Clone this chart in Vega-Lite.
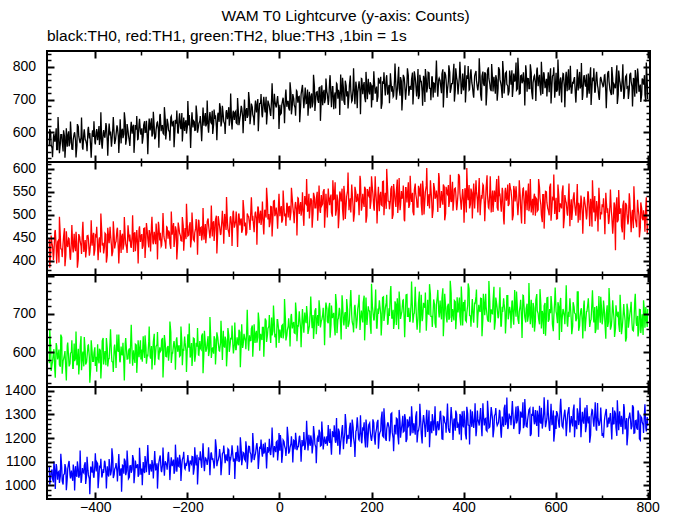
{
"$schema": "https://vega.github.io/schema/vega-lite/v6.json",
"background": "white",
"padding": {"left": 3, "top": 8, "right": 5, "bottom": 2},
"title": {"text": "WAM T0 Lightcurve (y-axis: Counts)", "anchor": "middle", "frame": "group", "offset": 4, "dx": -3},
"config": {
  "view": {"stroke": "black", "strokeWidth": 2},
  "font": "Liberation Sans",
  "axis": {"domain": false, "grid": false, "tickColor": "black", "labelColor": "black", "labelFont": "Liberation Sans", "labelFontSize": 14, "labelFlush": false, "labelOverlap": false, "labelBound": false, "minExtent": 0},
  "title": {"font": "Liberation Sans", "fontSize": 15.5, "fontWeight": "normal", "color": "black"},
  "concat": {"spacing": 0}
},
"spacing": 0,
"bounds": "flush",
"data": {"values": [
{"t":-500,"k":561,"r":447,"g":571,"b":1083},{"t":-497,"k":598,"r":418,"g":612,"b":1031},{"t":-494,"k":552,"r":436,"g":569,"b":1067},{"t":-491,"k":584,"r":402,"g":598,"b":1012},{"t":-488,"k":571,"r":463,"g":553,"b":1055},{"t":-485,"k":612,"r":429,"g":624,"b":1090},{"t":-482,"k":547,"r":441,"g":581,"b":1024},{"t":-479,"k":579,"r":396,"g":607,"b":1059},{"t":-476,"k":566,"r":452,"g":562,"b":1038},{"t":-473,"k":593,"r":425,"g":639,"b":1076},{"t":-470,"k":541,"r":438,"g":578,"b":1003},{"t":-467,"k":588,"r":471,"g":594,"b":1049},{"t":-464,"k":575,"r":413,"g":551,"b":1071},{"t":-461,"k":556,"r":434,"g":617,"b":1028},{"t":-458,"k":603,"r":449,"g":586,"b":1095},{"t":-455,"k":569,"r":408,"g":570,"b":1044},{"t":-452,"k":582,"r":443,"g":601,"b":1062},{"t":-449,"k":548,"r":427,"g":558,"b":1019},{"t":-446,"k":596,"r":459,"g":623,"b":1057},{"t":-443,"k":574,"r":421,"g":584,"b":1081},{"t":-440,"k":559,"r":437,"g":566,"b":1036},{"t":-437,"k":617,"r":404,"g":609,"b":1068},{"t":-434,"k":572,"r":452,"g":579,"b":1047},{"t":-431,"k":585,"r":432,"g":642,"b":1010},{"t":-428,"k":554,"r":466,"g":591,"b":1073},{"t":-425,"k":598,"r":419,"g":563,"b":1052},{"t":-422,"k":577,"r":445,"g":605,"b":1098},{"t":-419,"k":563,"r":428,"g":574,"b":1041},{"t":-416,"k":608,"r":455,"g":618,"b":1064},{"t":-413,"k":581,"r":411,"g":587,"b":1027},{"t":-410,"k":551,"r":442,"g":559,"b":1079},{"t":-407,"k":594,"r":433,"g":602,"b":1054},{"t":-404,"k":586,"r":461,"g":576,"b":1039},{"t":-401,"k":570,"r":424,"g":613,"b":1086},
{"t":-398,"k":602,"r":453,"g":588,"b":1058},{"t":-395,"k":576,"r":427,"g":621,"b":1092},{"t":-392,"k":619,"r":446,"g":571,"b":1041},{"t":-389,"k":583,"r":418,"g":604,"b":1075},{"t":-386,"k":561,"r":462,"g":583,"b":1033},{"t":-383,"k":597,"r":439,"g":637,"b":1069},{"t":-380,"k":585,"r":431,"g":592,"b":1104},{"t":-377,"k":628,"r":457,"g":566,"b":1052},{"t":-374,"k":571,"r":412,"g":609,"b":1080},{"t":-371,"k":604,"r":448,"g":585,"b":1037},{"t":-368,"k":590,"r":474,"g":628,"b":1071},{"t":-365,"k":556,"r":433,"g":597,"b":1063},{"t":-362,"k":613,"r":421,"g":574,"b":1115},{"t":-359,"k":592,"r":452,"g":612,"b":1046},{"t":-356,"k":578,"r":440,"g":589,"b":1078},{"t":-353,"k":621,"r":468,"g":646,"b":1059},{"t":-350,"k":587,"r":425,"g":601,"b":1094},{"t":-347,"k":599,"r":444,"g":577,"b":1040},{"t":-344,"k":566,"r":417,"g":615,"b":1072},{"t":-341,"k":611,"r":459,"g":593,"b":1085},{"t":-338,"k":594,"r":436,"g":568,"b":1049},{"t":-335,"k":632,"r":450,"g":624,"b":1101},{"t":-332,"k":583,"r":428,"g":599,"b":1061},{"t":-329,"k":605,"r":477,"g":583,"b":1077},{"t":-326,"k":571,"r":442,"g":610,"b":1035},{"t":-323,"k":617,"r":431,"g":634,"b":1083},{"t":-320,"k":596,"r":455,"g":590,"b":1068},{"t":-317,"k":623,"r":419,"g":605,"b":1110},{"t":-314,"k":589,"r":462,"g":572,"b":1056},{"t":-311,"k":608,"r":446,"g":619,"b":1073},{"t":-308,"k":578,"r":434,"g":596,"b":1089},{"t":-305,"k":626,"r":469,"g":587,"b":1047},{"t":-302,"k":601,"r":441,"g":631,"b":1079},
{"t":-299,"k":612,"r":458,"g":607,"b":1071},{"t":-296,"k":588,"r":433,"g":642,"b":1098},{"t":-293,"k":634,"r":471,"g":585,"b":1052},{"t":-290,"k":601,"r":447,"g":611,"b":1086},{"t":-287,"k":579,"r":462,"g":594,"b":1123},{"t":-284,"k":622,"r":429,"g":627,"b":1069},{"t":-281,"k":606,"r":455,"g":589,"b":1091},{"t":-278,"k":643,"r":478,"g":616,"b":1058},{"t":-275,"k":597,"r":440,"g":601,"b":1082},{"t":-272,"k":615,"r":463,"g":648,"b":1104},{"t":-269,"k":586,"r":436,"g":599,"b":1066},{"t":-266,"k":629,"r":452,"g":620,"b":1093},{"t":-263,"k":609,"r":485,"g":583,"b":1077},{"t":-260,"k":651,"r":444,"g":613,"b":1119},{"t":-257,"k":603,"r":431,"g":605,"b":1062},{"t":-254,"k":620,"r":467,"g":637,"b":1088},{"t":-251,"k":594,"r":453,"g":597,"b":1074},{"t":-248,"k":638,"r":439,"g":622,"b":1102},{"t":-245,"k":612,"r":474,"g":588,"b":1085},{"t":-242,"k":625,"r":448,"g":616,"b":1131},{"t":-239,"k":601,"r":461,"g":604,"b":1070},{"t":-236,"k":646,"r":426,"g":652,"b":1096},{"t":-233,"k":618,"r":457,"g":598,"b":1081},{"t":-230,"k":633,"r":482,"g":621,"b":1109},{"t":-227,"k":607,"r":450,"g":607,"b":1064},{"t":-224,"k":627,"r":465,"g":633,"b":1092},{"t":-221,"k":599,"r":438,"g":601,"b":1118},{"t":-218,"k":642,"r":470,"g":618,"b":1079},{"t":-215,"k":616,"r":454,"g":592,"b":1100},{"t":-212,"k":659,"r":443,"g":626,"b":1087},{"t":-209,"k":621,"r":476,"g":609,"b":1121},{"t":-206,"k":604,"r":459,"g":641,"b":1073},{"t":-203,"k":637,"r":447,"g":603,"b":1095},{"t":-200,"k":618,"r":472,"g":617,"b":1106},
{"t":-197,"k":621,"r":456,"g":612,"b":1081},{"t":-194,"k":600,"r":484,"g":586,"b":1105},{"t":-191,"k":639,"r":450,"g":624,"b":1089},{"t":-188,"k":615,"r":466,"g":600,"b":1120},{"t":-185,"k":632,"r":443,"g":635,"b":1074},{"t":-182,"k":607,"r":471,"g":597,"b":1098},{"t":-179,"k":650,"r":458,"g":615,"b":1129},{"t":-176,"k":616,"r":489,"g":593,"b":1086},{"t":-173,"k":635,"r":454,"g":629,"b":1110},{"t":-170,"k":602,"r":473,"g":607,"b":1093},{"t":-167,"k":643,"r":462,"g":649,"b":1138},{"t":-164,"k":620,"r":446,"g":601,"b":1085},{"t":-161,"k":659,"r":480,"g":621,"b":1116},{"t":-158,"k":627,"r":465,"g":609,"b":1101},{"t":-155,"k":614,"r":492,"g":642,"b":1123},{"t":-152,"k":649,"r":459,"g":605,"b":1090},{"t":-149,"k":630,"r":475,"g":627,"b":1134},{"t":-146,"k":666,"r":453,"g":610,"b":1107},{"t":-143,"k":624,"r":486,"g":596,"b":1094},{"t":-140,"k":641,"r":469,"g":633,"b":1119},{"t":-137,"k":617,"r":498,"g":616,"b":1156},{"t":-134,"k":655,"r":464,"g":638,"b":1103},{"t":-131,"k":632,"r":481,"g":604,"b":1127},{"t":-128,"k":673,"r":456,"g":625,"b":1111},{"t":-125,"k":636,"r":490,"g":619,"b":1095},{"t":-122,"k":651,"r":473,"g":656,"b":1140},{"t":-119,"k":625,"r":502,"g":612,"b":1118},{"t":-116,"k":662,"r":467,"g":630,"b":1131},{"t":-113,"k":640,"r":484,"g":607,"b":1105},{"t":-110,"k":677,"r":461,"g":643,"b":1149},{"t":-107,"k":647,"r":494,"g":621,"b":1114},{"t":-104,"k":629,"r":477,"g":635,"b":1137},{"t":-101,"k":660,"r":505,"g":614,"b":1123},
{"t":-98,"k":638,"r":472,"g":621,"b":1113},{"t":-95,"k":664,"r":488,"g":607,"b":1137},{"t":-92,"k":626,"r":464,"g":639,"b":1102},{"t":-89,"k":657,"r":500,"g":618,"b":1126},{"t":-86,"k":642,"r":477,"g":652,"b":1109},{"t":-83,"k":681,"r":492,"g":625,"b":1151},{"t":-80,"k":648,"r":469,"g":611,"b":1118},{"t":-77,"k":669,"r":506,"g":648,"b":1135},{"t":-74,"k":635,"r":483,"g":629,"b":1104},{"t":-71,"k":674,"r":461,"g":661,"b":1148},{"t":-68,"k":653,"r":497,"g":622,"b":1123},{"t":-65,"k":692,"r":480,"g":644,"b":1164},{"t":-62,"k":656,"r":513,"g":631,"b":1131},{"t":-59,"k":677,"r":487,"g":670,"b":1116},{"t":-56,"k":644,"r":474,"g":637,"b":1152},{"t":-53,"k":683,"r":503,"g":624,"b":1127},{"t":-50,"k":661,"r":491,"g":656,"b":1169},{"t":-47,"k":702,"r":518,"g":639,"b":1138},{"t":-44,"k":666,"r":482,"g":677,"b":1124},{"t":-41,"k":689,"r":509,"g":648,"b":1157},{"t":-38,"k":654,"r":496,"g":632,"b":1134},{"t":-35,"k":696,"r":473,"g":665,"b":1176},{"t":-32,"k":671,"r":511,"g":651,"b":1143},{"t":-29,"k":709,"r":494,"g":682,"b":1121},{"t":-26,"k":668,"r":526,"g":645,"b":1162},{"t":-23,"k":686,"r":502,"g":668,"b":1148},{"t":-20,"k":658,"r":485,"g":639,"b":1134},{"t":-17,"k":705,"r":517,"g":691,"b":1179},{"t":-14,"k":677,"r":499,"g":656,"b":1145},{"t":-11,"k":718,"r":531,"g":673,"b":1166},{"t":-8,"k":681,"r":506,"g":648,"b":1140},{"t":-5,"k":700,"r":492,"g":685,"b":1187},{"t":-2,"k":674,"r":523,"g":661,"b":1153},
{"t":1,"k":684,"r":497,"g":659,"b":1146},{"t":4,"k":658,"r":519,"g":637,"b":1172},{"t":7,"k":699,"r":490,"g":672,"b":1139},{"t":10,"k":671,"r":514,"g":653,"b":1184},{"t":13,"k":713,"r":503,"g":686,"b":1153},{"t":16,"k":678,"r":526,"g":644,"b":1167},{"t":19,"k":695,"r":494,"g":668,"b":1200},{"t":22,"k":667,"r":518,"g":657,"b":1144},{"t":25,"k":720,"r":506,"g":694,"b":1176},{"t":28,"k":684,"r":533,"g":662,"b":1159},{"t":31,"k":703,"r":499,"g":679,"b":1190},{"t":34,"k":675,"r":522,"g":649,"b":1152},{"t":37,"k":728,"r":511,"g":698,"b":1179},{"t":40,"k":691,"r":537,"g":671,"b":1164},{"t":43,"k":710,"r":502,"g":707,"b":1205},{"t":46,"k":680,"r":528,"g":660,"b":1156},{"t":49,"k":736,"r":515,"g":685,"b":1192},{"t":52,"k":696,"r":492,"g":668,"b":1171},{"t":55,"k":715,"r":541,"g":704,"b":1149},{"t":58,"k":688,"r":523,"g":676,"b":1200},{"t":61,"k":731,"r":507,"g":691,"b":1182},{"t":64,"k":701,"r":546,"g":662,"b":1214},{"t":67,"k":673,"r":520,"g":710,"b":1167},{"t":70,"k":719,"r":531,"g":681,"b":1189},{"t":73,"k":693,"r":504,"g":697,"b":1175},{"t":76,"k":741,"r":538,"g":673,"b":1211},{"t":79,"k":705,"r":515,"g":715,"b":1161},{"t":82,"k":724,"r":550,"g":687,"b":1198},{"t":85,"k":690,"r":526,"g":669,"b":1184},{"t":88,"k":738,"r":509,"g":708,"b":1222},{"t":91,"k":709,"r":543,"g":682,"b":1170},{"t":94,"k":683,"r":524,"g":699,"b":1203},{"t":97,"k":730,"r":556,"g":674,"b":1190},{"t":100,"k":704,"r":517,"g":712,"b":1178},
{"t":103,"k":724,"r":513,"g":714,"b":1207},{"t":106,"k":684,"r":557,"g":676,"b":1255},{"t":109,"k":757,"r":521,"g":729,"b":1180},{"t":112,"k":707,"r":544,"g":672,"b":1160},{"t":115,"k":740,"r":496,"g":689,"b":1229},{"t":118,"k":671,"r":534,"g":703,"b":1204},{"t":121,"k":722,"r":571,"g":644,"b":1191},{"t":124,"k":750,"r":512,"g":725,"b":1285},{"t":127,"k":703,"r":530,"g":686,"b":1167},{"t":130,"k":716,"r":505,"g":716,"b":1226},{"t":133,"k":777,"r":543,"g":668,"b":1180},{"t":136,"k":697,"r":557,"g":749,"b":1242},{"t":139,"k":735,"r":488,"g":679,"b":1153},{"t":142,"k":684,"r":539,"g":701,"b":1223},{"t":145,"k":742,"r":523,"g":661,"b":1253},{"t":148,"k":726,"r":553,"g":711,"b":1206},{"t":151,"k":713,"r":510,"g":675,"b":1196},{"t":154,"k":774,"r":536,"g":739,"b":1265},{"t":157,"k":694,"r":566,"g":698,"b":1209},{"t":160,"k":734,"r":518,"g":669,"b":1246},{"t":163,"k":705,"r":504,"g":718,"b":1171},{"t":166,"k":755,"r":549,"g":689,"b":1230},{"t":169,"k":674,"r":533,"g":687,"b":1288},{"t":172,"k":745,"r":524,"g":730,"b":1196},{"t":175,"k":725,"r":585,"g":658,"b":1226},{"t":178,"k":765,"r":509,"g":709,"b":1186},{"t":181,"k":717,"r":546,"g":678,"b":1245},{"t":184,"k":754,"r":517,"g":748,"b":1267},{"t":187,"k":692,"r":556,"g":698,"b":1160},{"t":190,"k":733,"r":498,"g":671,"b":1240},{"t":193,"k":764,"r":543,"g":720,"b":1216},{"t":196,"k":716,"r":561,"g":707,"b":1264},{"t":199,"k":746,"r":531,"g":648,"b":1197},
{"t":202,"k":744,"r":556,"g":719,"b":1220},{"t":205,"k":787,"r":515,"g":683,"b":1264},{"t":208,"k":718,"r":584,"g":729,"b":1172},{"t":211,"k":740,"r":524,"g":663,"b":1240},{"t":214,"k":710,"r":543,"g":714,"b":1277},{"t":217,"k":754,"r":508,"g":736,"b":1213},{"t":220,"k":770,"r":550,"g":701,"b":1231},{"t":223,"k":689,"r":520,"g":692,"b":1312},{"t":226,"k":749,"r":573,"g":745,"b":1205},{"t":229,"k":731,"r":539,"g":702,"b":1256},{"t":232,"k":766,"r":513,"g":729,"b":1188},{"t":235,"k":715,"r":554,"g":672,"b":1264},{"t":238,"k":745,"r":529,"g":715,"b":1244},{"t":241,"k":781,"r":530,"g":759,"b":1227},{"t":244,"k":724,"r":563,"g":689,"b":1306},{"t":247,"k":709,"r":501,"g":711,"b":1199},{"t":250,"k":760,"r":546,"g":681,"b":1254},{"t":253,"k":741,"r":517,"g":724,"b":1215},{"t":256,"k":730,"r":577,"g":741,"b":1280},{"t":259,"k":801,"r":534,"g":660,"b":1173},{"t":262,"k":712,"r":510,"g":720,"b":1268},{"t":265,"k":756,"r":552,"g":701,"b":1240},{"t":268,"k":721,"r":540,"g":736,"b":1294},{"t":271,"k":767,"r":490,"g":686,"b":1230},{"t":274,"k":700,"r":559,"g":715,"b":1278},{"t":277,"k":752,"r":527,"g":751,"b":1196},{"t":280,"k":774,"r":571,"g":694,"b":1250},{"t":283,"k":739,"r":523,"g":679,"b":1291},{"t":286,"k":730,"r":537,"g":730,"b":1227},{"t":289,"k":783,"r":548,"g":711,"b":1267},{"t":292,"k":740,"r":499,"g":700,"b":1262},{"t":295,"k":767,"r":568,"g":771,"b":1214},{"t":298,"k":710,"r":533,"g":682,"b":1313},
{"t":301,"k":794,"r":517,"g":689,"b":1230},{"t":304,"k":713,"r":554,"g":759,"b":1255},{"t":307,"k":754,"r":568,"g":708,"b":1270},{"t":310,"k":724,"r":499,"g":681,"b":1177},{"t":313,"k":773,"r":549,"g":729,"b":1297},{"t":316,"k":693,"r":533,"g":716,"b":1239},{"t":319,"k":763,"r":563,"g":656,"b":1287},{"t":322,"k":742,"r":519,"g":737,"b":1226},{"t":325,"k":782,"r":545,"g":699,"b":1317},{"t":328,"k":734,"r":575,"g":751,"b":1248},{"t":331,"k":770,"r":526,"g":694,"b":1220},{"t":334,"k":707,"r":512,"g":710,"b":1267},{"t":337,"k":749,"r":556,"g":724,"b":1278},{"t":340,"k":779,"r":540,"g":664,"b":1211},{"t":343,"k":730,"r":531,"g":745,"b":1268},{"t":346,"k":761,"r":591,"g":705,"b":1233},{"t":349,"k":758,"r":515,"g":735,"b":1309},{"t":352,"k":720,"r":552,"g":686,"b":1252},{"t":355,"k":793,"r":522,"g":767,"b":1195},{"t":358,"k":743,"r":561,"g":697,"b":1289},{"t":361,"k":775,"r":503,"g":718,"b":1260},{"t":364,"k":705,"r":547,"g":678,"b":1300},{"t":367,"k":757,"r":565,"g":727,"b":1243},{"t":370,"k":784,"r":535,"g":691,"b":1222},{"t":373,"k":736,"r":528,"g":754,"b":1331},{"t":376,"k":749,"r":572,"g":713,"b":1252},{"t":379,"k":810,"r":535,"g":683,"b":1278},{"t":382,"k":729,"r":558,"g":732,"b":1231},{"t":385,"k":767,"r":510,"g":702,"b":1300},{"t":388,"k":716,"r":547,"g":704,"b":1261},{"t":391,"k":773,"r":584,"g":743,"b":1215},{"t":394,"k":757,"r":524,"g":670,"b":1291},{"t":397,"k":744,"r":542,"g":721,"b":1313},{"t":400,"k":728,"r":528,"g":731,"b":1245},
{"t":403,"k":805,"r":558,"g":737,"b":1274},{"t":406,"k":745,"r":505,"g":680,"b":1194},{"t":409,"k":764,"r":540,"g":723,"b":1303},{"t":412,"k":729,"r":565,"g":766,"b":1253},{"t":415,"k":780,"r":523,"g":695,"b":1321},{"t":418,"k":751,"r":548,"g":717,"b":1247},{"t":421,"k":715,"r":547,"g":687,"b":1268},{"t":424,"k":772,"r":514,"g":730,"b":1287},{"t":427,"k":788,"r":575,"g":746,"b":1208},{"t":430,"k":737,"r":532,"g":664,"b":1316},{"t":433,"k":756,"r":559,"g":724,"b":1263},{"t":436,"k":767,"r":499,"g":705,"b":1303},{"t":439,"k":697,"r":543,"g":740,"b":1238},{"t":442,"k":786,"r":566,"g":689,"b":1347},{"t":445,"k":742,"r":524,"g":718,"b":1253},{"t":448,"k":778,"r":536,"g":753,"b":1283},{"t":451,"k":732,"r":586,"g":696,"b":1229},{"t":454,"k":799,"r":516,"g":680,"b":1294},{"t":457,"k":748,"r":549,"g":731,"b":1247},{"t":460,"k":726,"r":505,"g":712,"b":1331},{"t":463,"k":761,"r":553,"g":701,"b":1277},{"t":466,"k":770,"r":539,"g":771,"b":1238},{"t":469,"k":718,"r":528,"g":682,"b":1303},{"t":472,"k":761,"r":578,"g":725,"b":1264},{"t":475,"k":734,"r":509,"g":689,"b":1262},{"t":478,"k":791,"r":543,"g":735,"b":1319},{"t":481,"k":749,"r":518,"g":668,"b":1221},{"t":484,"k":705,"r":559,"g":719,"b":1291},{"t":487,"k":775,"r":490,"g":741,"b":1248},{"t":490,"k":755,"r":550,"g":706,"b":1341},{"t":493,"k":785,"r":531,"g":697,"b":1274},{"t":496,"k":742,"r":566,"g":748,"b":1238},{"t":499,"k":726,"r":524,"g":705,"b":1304},
{"t":502,"k":763,"r":556,"g":702,"b":1294},{"t":505,"k":790,"r":530,"g":732,"b":1323},{"t":508,"k":742,"r":500,"g":683,"b":1276},{"t":511,"k":755,"r":548,"g":763,"b":1265},{"t":514,"k":814,"r":562,"g":693,"b":1333},{"t":517,"k":733,"r":517,"g":714,"b":1276},{"t":520,"k":771,"r":533,"g":674,"b":1312},{"t":523,"k":719,"r":542,"g":722,"b":1236},{"t":526,"k":775,"r":481,"g":686,"b":1294},{"t":529,"k":759,"r":557,"g":749,"b":1351},{"t":532,"k":745,"r":520,"g":708,"b":1258},{"t":535,"k":805,"r":550,"g":678,"b":1287},{"t":538,"k":724,"r":510,"g":727,"b":1247},{"t":541,"k":764,"r":568,"g":696,"b":1305},{"t":544,"k":734,"r":524,"g":697,"b":1326},{"t":547,"k":782,"r":505,"g":737,"b":1218},{"t":550,"k":701,"r":535,"g":664,"b":1297},{"t":553,"k":771,"r":541,"g":715,"b":1272},{"t":556,"k":750,"r":498,"g":682,"b":1319},{"t":559,"k":790,"r":534,"g":752,"b":1251},{"t":562,"k":741,"r":511,"g":701,"b":1290},{"t":565,"k":776,"r":559,"g":673,"b":1337},{"t":568,"k":713,"r":521,"g":722,"b":1261},{"t":571,"k":754,"r":484,"g":708,"b":1240},{"t":574,"k":784,"r":544,"g":648,"b":1308},{"t":577,"k":735,"r":525,"g":729,"b":1283},{"t":580,"k":764,"r":550,"g":691,"b":1269},{"t":583,"k":762,"r":513,"g":743,"b":1362},{"t":586,"k":723,"r":499,"g":686,"b":1243},{"t":589,"k":796,"r":568,"g":702,"b":1301},{"t":592,"k":745,"r":517,"g":715,"b":1254},{"t":595,"k":777,"r":532,"g":655,"b":1317},{"t":598,"k":706,"r":502,"g":735,"b":1227},
{"t":601,"k":782,"r":537,"g":706,"b":1238},{"t":604,"k":731,"r":492,"g":676,"b":1303},{"t":607,"k":750,"r":540,"g":718,"b":1255},{"t":610,"k":761,"r":525,"g":734,"b":1338},{"t":613,"k":691,"r":514,"g":653,"b":1284},{"t":616,"k":780,"r":564,"g":713,"b":1244},{"t":619,"k":736,"r":495,"g":694,"b":1308},{"t":622,"k":772,"r":529,"g":729,"b":1269},{"t":625,"k":726,"r":503,"g":677,"b":1268},{"t":628,"k":793,"r":544,"g":706,"b":1322},{"t":631,"k":742,"r":475,"g":741,"b":1224},{"t":634,"k":720,"r":534,"g":684,"b":1293},{"t":637,"k":755,"r":515,"g":668,"b":1249},{"t":640,"k":764,"r":549,"g":719,"b":1342},{"t":643,"k":712,"r":507,"g":700,"b":1274},{"t":646,"k":755,"r":537,"g":689,"b":1237},{"t":649,"k":728,"r":483,"g":758,"b":1302},{"t":652,"k":785,"r":517,"g":669,"b":1284},{"t":655,"k":742,"r":542,"g":712,"b":1203},{"t":658,"k":699,"r":500,"g":677,"b":1311},{"t":661,"k":769,"r":525,"g":722,"b":1261},{"t":664,"k":747,"r":523,"g":655,"b":1329},{"t":667,"k":777,"r":490,"g":706,"b":1253},{"t":670,"k":734,"r":551,"g":727,"b":1274},{"t":673,"k":718,"r":508,"g":692,"b":1292},{"t":676,"k":799,"r":535,"g":683,"b":1213},{"t":679,"k":738,"r":474,"g":734,"b":1320},{"t":682,"k":757,"r":518,"g":692,"b":1266},{"t":685,"k":721,"r":541,"g":718,"b":1306},{"t":688,"k":772,"r":499,"g":661,"b":1240},{"t":691,"k":743,"r":510,"g":704,"b":1348},{"t":694,"k":707,"r":559,"g":747,"b":1254},{"t":697,"k":764,"r":490,"g":677,"b":1283},{"t":700,"k":756,"r":501,"g":709,"b":1246},
{"t":703,"k":740,"r":517,"g":695,"b":1221},{"t":706,"k":775,"r":489,"g":706,"b":1275},{"t":709,"k":723,"r":548,"g":635,"b":1314},{"t":712,"k":752,"r":504,"g":723,"b":1248},{"t":715,"k":788,"r":480,"g":680,"b":1287},{"t":718,"k":731,"r":522,"g":715,"b":1290},{"t":721,"k":714,"r":509,"g":669,"b":1232},{"t":724,"k":765,"r":459,"g":736,"b":1330},{"t":727,"k":747,"r":527,"g":685,"b":1261},{"t":730,"k":735,"r":423,"g":662,"b":1303},{"t":733,"k":805,"r":538,"g":697,"b":1209},{"t":736,"k":716,"r":489,"g":706,"b":1277},{"t":739,"k":760,"r":502,"g":653,"b":1313},{"t":742,"k":724,"r":513,"g":696,"b":1247},{"t":745,"k":770,"r":462,"g":669,"b":1265},{"t":748,"k":702,"r":531,"g":726,"b":1344},{"t":751,"k":753,"r":496,"g":682,"b":1236},{"t":754,"k":775,"r":521,"g":638,"b":1285},{"t":757,"k":739,"r":479,"g":709,"b":1217},{"t":760,"k":731,"r":547,"g":686,"b":1292},{"t":763,"k":782,"r":487,"g":716,"b":1270},{"t":766,"k":739,"r":505,"g":673,"b":1251},{"t":769,"k":766,"r":471,"g":656,"b":1330},{"t":772,"k":709,"r":512,"g":737,"b":1222},{"t":775,"k":752,"r":481,"g":677,"b":1275},{"t":778,"k":795,"r":533,"g":695,"b":1235},{"t":781,"k":724,"r":498,"g":660,"b":1299},{"t":784,"k":746,"r":472,"g":711,"b":1191},{"t":787,"k":716,"r":513,"g":681,"b":1285},{"t":790,"k":759,"r":488,"g":645,"b":1255},{"t":793,"k":775,"r":490,"g":702,"b":1309},{"t":796,"k":694,"r":521,"g":718,"b":1242},{"t":799,"k":753,"r":458,"g":666,"b":1289},
{"t":-499,"k":610,"r":385,"g":659,"b":1003},{"t":-496,"k":561,"r":455,"g":551,"b":1056},{"t":-493,"k":524,"r":432,"g":576,"b":1028},{"t":-490,"k":596,"r":417,"g":608,"b":1102},{"t":-487,"k":578,"r":467,"g":533,"b":984},{"t":-484,"k":547,"r":394,"g":617,"b":1079},{"t":-481,"k":647,"r":443,"g":589,"b":1054},{"t":-478,"k":536,"r":496,"g":567,"b":1010},{"t":-475,"k":593,"r":426,"g":646,"b":1133},{"t":-472,"k":571,"r":408,"g":544,"b":1019},{"t":-469,"k":606,"r":452,"g":581,"b":1044},{"t":-466,"k":522,"r":388,"g":603,"b":1090},{"t":-463,"k":612,"r":464,"g":526,"b":979},{"t":-460,"k":588,"r":430,"g":625,"b":1069},{"t":-457,"k":557,"r":448,"g":563,"b":1103},{"t":-454,"k":633,"r":402,"g":597,"b":1029},{"t":-451,"k":549,"r":478,"g":631,"b":1043},{"t":-448,"k":578,"r":418,"g":558,"b":1088},{"t":-445,"k":600,"r":433,"g":577,"b":978},{"t":-442,"k":523,"r":463,"g":654,"b":1044},{"t":-439,"k":625,"r":385,"g":570,"b":1101},{"t":-436,"k":588,"r":458,"g":542,"b":1032},{"t":-433,"k":567,"r":442,"g":615,"b":1147},{"t":-430,"k":645,"r":415,"g":553,"b":1021},{"t":-427,"k":547,"r":485,"g":602,"b":1058},{"t":-424,"k":609,"r":428,"g":640,"b":1083},{"t":-421,"k":576,"r":407,"g":568,"b":1006},{"t":-418,"k":542,"r":454,"g":588,"b":1121},{"t":-415,"k":617,"r":447,"g":619,"b":1044},{"t":-412,"k":598,"r":418,"g":520,"b":962},{"t":-409,"k":522,"r":488,"g":631,"b":1073},{"t":-406,"k":606,"r":447,"g":576,"b":1102},{"t":-403,"k":634,"r":411,"g":598,"b":1032},{"t":-400,"k":563,"r":456,"g":564,"b":1136},
{"t":-397,"k":610,"r":474,"g":549,"b":1099},{"t":-394,"k":592,"r":401,"g":586,"b":988},{"t":-391,"k":561,"r":451,"g":609,"b":1079},{"t":-388,"k":661,"r":503,"g":531,"b":1112},{"t":-385,"k":550,"r":433,"g":630,"b":1039},{"t":-382,"k":607,"r":416,"g":568,"b":1052},{"t":-379,"k":585,"r":460,"g":603,"b":1098},{"t":-376,"k":620,"r":396,"g":637,"b":987},{"t":-373,"k":528,"r":472,"g":563,"b":1054},{"t":-370,"k":627,"r":438,"g":582,"b":1111},{"t":-367,"k":602,"r":457,"g":660,"b":1042},{"t":-364,"k":572,"r":410,"g":576,"b":1157},{"t":-361,"k":647,"r":486,"g":548,"b":1031},{"t":-358,"k":564,"r":427,"g":620,"b":1068},{"t":-355,"k":592,"r":442,"g":559,"b":1094},{"t":-352,"k":615,"r":472,"g":608,"b":1016},{"t":-349,"k":537,"r":394,"g":646,"b":1132},{"t":-346,"k":640,"r":467,"g":574,"b":1054},{"t":-343,"k":604,"r":452,"g":594,"b":973},{"t":-340,"k":582,"r":424,"g":625,"b":1083},{"t":-337,"k":661,"r":495,"g":526,"b":1113},{"t":-334,"k":562,"r":438,"g":637,"b":1043},{"t":-331,"k":625,"r":417,"g":582,"b":1147},{"t":-328,"k":591,"r":465,"g":604,"b":1028},{"t":-325,"k":558,"r":457,"g":570,"b":1082},{"t":-322,"k":632,"r":428,"g":672,"b":1053},{"t":-319,"k":614,"r":499,"g":565,"b":1128},{"t":-316,"k":537,"r":458,"g":590,"b":1009},{"t":-313,"k":622,"r":421,"g":621,"b":1105},{"t":-310,"k":650,"r":467,"g":546,"b":1080},{"t":-307,"k":579,"r":394,"g":631,"b":1036},{"t":-304,"k":641,"r":475,"g":603,"b":1159},{"t":-301,"k":593,"r":452,"g":581,"b":1045},
{"t":-298,"k":565,"r":426,"g":575,"b":1000},{"t":-295,"k":622,"r":470,"g":609,"b":1067},{"t":-292,"k":600,"r":406,"g":644,"b":1124},{"t":-289,"k":635,"r":482,"g":570,"b":1055},{"t":-286,"k":533,"r":448,"g":589,"b":1170},{"t":-283,"k":642,"r":467,"g":667,"b":1044},{"t":-280,"k":618,"r":420,"g":583,"b":1081},{"t":-277,"k":587,"r":496,"g":555,"b":1107},{"t":-274,"k":663,"r":436,"g":627,"b":1029},{"t":-271,"k":579,"r":452,"g":566,"b":1145},{"t":-268,"k":608,"r":481,"g":615,"b":1067},{"t":-265,"k":631,"r":403,"g":653,"b":986},{"t":-262,"k":553,"r":477,"g":582,"b":1096},{"t":-259,"k":656,"r":461,"g":601,"b":1126},{"t":-256,"k":619,"r":433,"g":632,"b":1056},{"t":-253,"k":598,"r":504,"g":534,"b":1160},{"t":-250,"k":677,"r":447,"g":645,"b":1041},{"t":-247,"k":578,"r":426,"g":589,"b":1095},{"t":-244,"k":641,"r":473,"g":611,"b":1066},{"t":-241,"k":607,"r":466,"g":578,"b":1141},{"t":-238,"k":574,"r":437,"g":680,"b":1022},{"t":-235,"k":649,"r":507,"g":572,"b":1118},{"t":-232,"k":630,"r":467,"g":598,"b":1093},{"t":-229,"k":554,"r":430,"g":629,"b":1049},{"t":-226,"k":638,"r":475,"g":554,"b":1172},{"t":-223,"k":667,"r":403,"g":639,"b":1058},{"t":-220,"k":596,"r":483,"g":611,"b":1083},{"t":-217,"k":658,"r":460,"g":589,"b":1129},{"t":-214,"k":610,"r":444,"g":667,"b":1018},{"t":-211,"k":572,"r":495,"g":566,"b":1109},{"t":-208,"k":645,"r":422,"g":603,"b":1142},{"t":-205,"k":627,"r":471,"g":625,"b":1069},{"t":-202,"k":596,"r":524,"g":548,"b":1082},{"t":-199,"k":696,"r":454,"g":647,"b":1128},
{"t":-196,"k":653,"r":475,"g":675,"b":1058},{"t":-193,"k":552,"r":429,"g":592,"b":1096},{"t":-190,"k":661,"r":505,"g":564,"b":1122},{"t":-187,"k":636,"r":446,"g":637,"b":1045},{"t":-184,"k":606,"r":461,"g":575,"b":1161},{"t":-181,"k":682,"r":491,"g":625,"b":1084},{"t":-178,"k":599,"r":413,"g":663,"b":1003},{"t":-175,"k":627,"r":487,"g":592,"b":1114},{"t":-172,"k":650,"r":471,"g":611,"b":1144},{"t":-169,"k":573,"r":444,"g":643,"b":1074},{"t":-166,"k":676,"r":515,"g":545,"b":1178},{"t":-163,"k":640,"r":458,"g":656,"b":1060},{"t":-160,"k":618,"r":438,"g":601,"b":1114},{"t":-157,"k":697,"r":485,"g":623,"b":1086},{"t":-154,"k":599,"r":478,"g":590,"b":1161},{"t":-151,"k":662,"r":449,"g":692,"b":1043},{"t":-148,"k":628,"r":520,"g":585,"b":1139},{"t":-145,"k":595,"r":480,"g":611,"b":1115},{"t":-142,"k":670,"r":443,"g":642,"b":1071},{"t":-139,"k":652,"r":489,"g":568,"b":1195},{"t":-136,"k":576,"r":416,"g":652,"b":1081},{"t":-133,"k":660,"r":497,"g":625,"b":1107},{"t":-130,"k":689,"r":474,"g":603,"b":1153},{"t":-127,"k":618,"r":459,"g":682,"b":1043},{"t":-124,"k":681,"r":509,"g":580,"b":1134},{"t":-121,"k":633,"r":437,"g":618,"b":1168},{"t":-118,"k":595,"r":487,"g":641,"b":1094},{"t":-115,"k":668,"r":539,"g":563,"b":1108},{"t":-112,"k":650,"r":470,"g":663,"b":1154},{"t":-109,"k":620,"r":452,"g":601,"b":1044},{"t":-106,"k":719,"r":497,"g":636,"b":1111},{"t":-103,"k":609,"r":432,"g":670,"b":1169},{"t":-100,"k":666,"r":509,"g":597,"b":1100},
{"t":-97,"k":659,"r":477,"g":678,"b":1027},{"t":-94,"k":629,"r":507,"g":607,"b":1138},{"t":-91,"k":705,"r":430,"g":627,"b":1168},{"t":-88,"k":622,"r":503,"g":659,"b":1099},{"t":-85,"k":651,"r":488,"g":561,"b":1203},{"t":-82,"k":674,"r":461,"g":673,"b":1085},{"t":-79,"k":597,"r":532,"g":618,"b":1139},{"t":-76,"k":700,"r":475,"g":641,"b":1111},{"t":-73,"k":664,"r":455,"g":608,"b":1186},{"t":-70,"k":644,"r":503,"g":711,"b":1069},{"t":-67,"k":723,"r":496,"g":604,"b":1165},{"t":-64,"k":625,"r":467,"g":630,"b":1141},{"t":-61,"k":688,"r":538,"g":662,"b":1097},{"t":-58,"k":655,"r":498,"g":588,"b":1221},{"t":-55,"k":622,"r":462,"g":673,"b":1107},{"t":-52,"k":697,"r":507,"g":646,"b":1133},{"t":-49,"k":679,"r":435,"g":625,"b":1179},{"t":-46,"k":603,"r":516,"g":704,"b":1069},{"t":-43,"k":688,"r":494,"g":604,"b":1160},{"t":-40,"k":717,"r":478,"g":642,"b":1194},{"t":-37,"k":646,"r":529,"g":665,"b":1121},{"t":-34,"k":709,"r":457,"g":588,"b":1135},{"t":-31,"k":661,"r":507,"g":688,"b":1181},{"t":-28,"k":624,"r":559,"g":627,"b":1071},{"t":-25,"k":697,"r":490,"g":662,"b":1138},{"t":-22,"k":680,"r":473,"g":697,"b":1197},{"t":-19,"k":650,"r":518,"g":624,"b":1128},{"t":-16,"k":750,"r":453,"g":644,"b":1244},{"t":-13,"k":640,"r":530,"g":722,"b":1118},{"t":-10,"k":697,"r":497,"g":639,"b":1156},{"t":-7,"k":676,"r":516,"g":612,"b":1182},{"t":-4,"k":711,"r":470,"g":685,"b":1105},{"t":-1,"k":610,"r":546,"g":624,"b":1221},
{"t":2,"k":654,"r":510,"g":646,"b":1213},{"t":5,"k":683,"r":483,"g":669,"b":1095},{"t":8,"k":706,"r":553,"g":636,"b":1191},{"t":11,"k":628,"r":497,"g":739,"b":1168},{"t":14,"k":731,"r":476,"g":631,"b":1124},{"t":17,"k":695,"r":524,"g":657,"b":1248},{"t":20,"k":674,"r":517,"g":689,"b":1134},{"t":23,"k":753,"r":488,"g":615,"b":1160},{"t":26,"k":655,"r":559,"g":700,"b":1207},{"t":29,"k":717,"r":518,"g":673,"b":1097},{"t":32,"k":684,"r":482,"g":651,"b":1188},{"t":35,"k":651,"r":528,"g":730,"b":1222},{"t":38,"k":726,"r":455,"g":629,"b":1149},{"t":41,"k":708,"r":536,"g":667,"b":1164},{"t":44,"k":631,"r":513,"g":690,"b":1210},{"t":47,"k":716,"r":498,"g":613,"b":1100},{"t":50,"k":745,"r":549,"g":713,"b":1167},{"t":53,"k":674,"r":476,"g":651,"b":1225},{"t":56,"k":737,"r":526,"g":686,"b":1157},{"t":59,"k":689,"r":578,"g":721,"b":1273},{"t":62,"k":651,"r":509,"g":648,"b":1147},{"t":65,"k":724,"r":492,"g":668,"b":1185},{"t":68,"k":706,"r":536,"g":746,"b":1211},{"t":71,"k":676,"r":472,"g":663,"b":1135},{"t":74,"k":776,"r":548,"g":635,"b":1251},{"t":77,"k":665,"r":515,"g":708,"b":1174},{"t":80,"k":722,"r":534,"g":647,"b":1093},{"t":83,"k":701,"r":487,"g":697,"b":1204},{"t":86,"k":736,"r":564,"g":736,"b":1235},{"t":89,"k":635,"r":504,"g":665,"b":1166},{"t":92,"k":744,"r":520,"g":685,"b":1270},{"t":95,"k":719,"r":550,"g":716,"b":1152},{"t":98,"k":689,"r":472,"g":618,"b":1206},{"t":101,"k":765,"r":546,"g":730,"b":1179},
{"t":104,"k":718,"r":494,"g":681,"b":1167},{"t":107,"k":697,"r":541,"g":712,"b":1193},{"t":110,"k":775,"r":534,"g":638,"b":1239},{"t":113,"k":677,"r":505,"g":722,"b":1129},{"t":116,"k":740,"r":575,"g":695,"b":1220},{"t":119,"k":707,"r":535,"g":673,"b":1254},{"t":122,"k":673,"r":498,"g":752,"b":1180},{"t":125,"k":748,"r":544,"g":650,"b":1194},{"t":128,"k":730,"r":471,"g":688,"b":1240},{"t":131,"k":653,"r":551,"g":710,"b":1130},{"t":134,"k":738,"r":529,"g":633,"b":1197},{"t":137,"k":767,"r":513,"g":732,"b":1255},{"t":140,"k":695,"r":563,"g":670,"b":1186},{"t":143,"k":758,"r":491,"g":705,"b":1302},{"t":146,"k":710,"r":540,"g":739,"b":1176},{"t":149,"k":673,"r":592,"g":666,"b":1213},{"t":152,"k":745,"r":523,"g":685,"b":1239},{"t":155,"k":727,"r":505,"g":763,"b":1162},{"t":158,"k":697,"r":549,"g":679,"b":1278},{"t":161,"k":796,"r":485,"g":652,"b":1201},{"t":164,"k":686,"r":561,"g":724,"b":1120},{"t":167,"k":743,"r":528,"g":662,"b":1231},{"t":170,"k":721,"r":546,"g":712,"b":1261},{"t":173,"k":756,"r":499,"g":750,"b":1192},{"t":176,"k":655,"r":576,"g":679,"b":1296},{"t":179,"k":764,"r":516,"g":698,"b":1178},{"t":182,"k":739,"r":531,"g":730,"b":1231},{"t":185,"k":709,"r":561,"g":631,"b":1203},{"t":188,"k":785,"r":483,"g":743,"b":1278},{"t":191,"k":701,"r":556,"g":687,"b":1160},{"t":194,"k":730,"r":541,"g":710,"b":1256},{"t":197,"k":753,"r":513,"g":676,"b":1232},{"t":200,"k":676,"r":584,"g":779,"b":1188},
{"t":203,"k":698,"r":546,"g":708,"b":1279},{"t":206,"k":760,"r":509,"g":686,"b":1206},{"t":209,"k":727,"r":554,"g":764,"b":1220},{"t":212,"k":693,"r":481,"g":663,"b":1265},{"t":215,"k":767,"r":561,"g":700,"b":1155},{"t":218,"k":749,"r":538,"g":722,"b":1222},{"t":221,"k":672,"r":522,"g":644,"b":1280},{"t":224,"k":756,"r":572,"g":743,"b":1210},{"t":227,"k":784,"r":499,"g":682,"b":1326},{"t":230,"k":713,"r":548,"g":716,"b":1200},{"t":233,"k":775,"r":600,"g":750,"b":1238},{"t":236,"k":726,"r":530,"g":676,"b":1264},{"t":239,"k":689,"r":512,"g":695,"b":1186},{"t":242,"k":761,"r":556,"g":773,"b":1302},{"t":245,"k":742,"r":491,"g":689,"b":1225},{"t":248,"k":712,"r":567,"g":661,"b":1144},{"t":251,"k":811,"r":533,"g":733,"b":1254},{"t":254,"k":700,"r":551,"g":671,"b":1284},{"t":257,"k":756,"r":504,"g":721,"b":1215},{"t":260,"k":735,"r":580,"g":759,"b":1319},{"t":263,"k":769,"r":520,"g":687,"b":1201},{"t":266,"k":667,"r":535,"g":706,"b":1254},{"t":269,"k":776,"r":564,"g":737,"b":1226},{"t":272,"k":751,"r":486,"g":639,"b":1301},{"t":275,"k":720,"r":559,"g":750,"b":1183},{"t":278,"k":796,"r":543,"g":694,"b":1279},{"t":281,"k":712,"r":515,"g":716,"b":1254},{"t":284,"k":740,"r":585,"g":682,"b":1210},{"t":287,"k":762,"r":528,"g":785,"b":1334},{"t":290,"k":685,"r":507,"g":677,"b":1220},{"t":293,"k":787,"r":554,"g":702,"b":1245},{"t":296,"k":750,"r":546,"g":733,"b":1291},{"t":299,"k":729,"r":517,"g":659,"b":1181},
{"t":302,"k":702,"r":563,"g":729,"b":1230},{"t":305,"k":776,"r":540,"g":651,"b":1345},{"t":308,"k":758,"r":524,"g":750,"b":1219},{"t":311,"k":681,"r":574,"g":688,"b":1256},{"t":314,"k":765,"r":501,"g":722,"b":1282},{"t":317,"k":794,"r":550,"g":756,"b":1204},{"t":320,"k":722,"r":602,"g":682,"b":1320},{"t":323,"k":784,"r":532,"g":701,"b":1242},{"t":326,"k":735,"r":514,"g":778,"b":1161},{"t":329,"k":698,"r":558,"g":694,"b":1271},{"t":332,"k":770,"r":493,"g":666,"b":1301},{"t":335,"k":751,"r":569,"g":738,"b":1231},{"t":338,"k":721,"r":535,"g":676,"b":1334},{"t":341,"k":820,"r":553,"g":725,"b":1216},{"t":344,"k":709,"r":506,"g":763,"b":1269},{"t":347,"k":766,"r":582,"g":691,"b":1241},{"t":350,"k":744,"r":522,"g":710,"b":1315},{"t":353,"k":778,"r":537,"g":741,"b":1197},{"t":356,"k":676,"r":566,"g":642,"b":1292},{"t":359,"k":785,"r":488,"g":753,"b":1268},{"t":362,"k":760,"r":561,"g":697,"b":1223},{"t":365,"k":729,"r":545,"g":719,"b":1346},{"t":368,"k":805,"r":517,"g":685,"b":1232},{"t":371,"k":721,"r":587,"g":787,"b":1257},{"t":374,"k":749,"r":530,"g":679,"b":1303},{"t":377,"k":772,"r":509,"g":704,"b":1192},{"t":380,"k":694,"r":556,"g":735,"b":1283},{"t":383,"k":796,"r":548,"g":660,"b":1316},{"t":386,"k":759,"r":519,"g":744,"b":1243},{"t":389,"k":738,"r":589,"g":716,"b":1256},{"t":392,"k":816,"r":548,"g":694,"b":1302},{"t":395,"k":717,"r":511,"g":772,"b":1191},{"t":398,"k":780,"r":556,"g":670,"b":1257},{"t":401,"k":746,"r":483,"g":707,"b":1315},
{"t":404,"k":691,"r":550,"g":684,"b":1217},{"t":407,"k":775,"r":602,"g":703,"b":1332},{"t":410,"k":803,"r":532,"g":780,"b":1255},{"t":413,"k":731,"r":514,"g":696,"b":1173},{"t":416,"k":793,"r":557,"g":667,"b":1283},{"t":419,"k":744,"r":492,"g":739,"b":1313},{"t":422,"k":706,"r":568,"g":677,"b":1243},{"t":425,"k":778,"r":534,"g":726,"b":1347},{"t":428,"k":759,"r":551,"g":764,"b":1228},{"t":431,"k":728,"r":505,"g":692,"b":1281},{"t":434,"k":827,"r":580,"g":710,"b":1253},{"t":437,"k":716,"r":520,"g":741,"b":1327},{"t":440,"k":772,"r":535,"g":642,"b":1208},{"t":443,"k":750,"r":564,"g":753,"b":1304},{"t":446,"k":784,"r":486,"g":697,"b":1279},{"t":449,"k":682,"r":559,"g":719,"b":1234},{"t":452,"k":790,"r":543,"g":685,"b":1358},{"t":455,"k":765,"r":514,"g":786,"b":1243},{"t":458,"k":734,"r":584,"g":678,"b":1268},{"t":461,"k":809,"r":527,"g":703,"b":1314},{"t":464,"k":725,"r":506,"g":734,"b":1203},{"t":467,"k":753,"r":553,"g":659,"b":1294},{"t":470,"k":775,"r":545,"g":743,"b":1327},{"t":473,"k":697,"r":516,"g":715,"b":1253},{"t":476,"k":799,"r":585,"g":693,"b":1267},{"t":479,"k":762,"r":544,"g":770,"b":1312},{"t":482,"k":740,"r":507,"g":668,"b":1201},{"t":485,"k":818,"r":552,"g":705,"b":1268},{"t":488,"k":719,"r":479,"g":727,"b":1325},{"t":491,"k":781,"r":559,"g":649,"b":1255},{"t":494,"k":747,"r":536,"g":748,"b":1371},{"t":497,"k":713,"r":519,"g":686,"b":1244},{"t":500,"k":789,"r":569,"g":719,"b":1282},
{"t":503,"k":746,"r":553,"g":663,"b":1254},{"t":506,"k":708,"r":488,"g":735,"b":1357},{"t":509,"k":780,"r":563,"g":672,"b":1238},{"t":512,"k":760,"r":529,"g":721,"b":1291},{"t":515,"k":729,"r":546,"g":759,"b":1262},{"t":518,"k":828,"r":499,"g":687,"b":1336},{"t":521,"k":717,"r":575,"g":706,"b":1217},{"t":524,"k":773,"r":515,"g":737,"b":1312},{"t":527,"k":750,"r":530,"g":637,"b":1287},{"t":530,"k":784,"r":558,"g":748,"b":1242},{"t":533,"k":682,"r":480,"g":692,"b":1365},{"t":536,"k":790,"r":553,"g":714,"b":1250},{"t":539,"k":765,"r":536,"g":680,"b":1275},{"t":542,"k":734,"r":508,"g":781,"b":1320},{"t":545,"k":808,"r":578,"g":673,"b":1209},{"t":548,"k":724,"r":520,"g":698,"b":1299},{"t":551,"k":752,"r":499,"g":729,"b":1332},{"t":554,"k":774,"r":546,"g":654,"b":1258},{"t":557,"k":696,"r":537,"g":737,"b":1271},{"t":560,"k":798,"r":508,"g":709,"b":1316},{"t":563,"k":760,"r":578,"g":687,"b":1205},{"t":566,"k":738,"r":536,"g":765,"b":1271},{"t":569,"k":816,"r":500,"g":662,"b":1328},{"t":572,"k":717,"r":544,"g":700,"b":1258},{"t":575,"k":779,"r":470,"g":721,"b":1373},{"t":578,"k":744,"r":551,"g":643,"b":1246},{"t":581,"k":710,"r":527,"g":742,"b":1283},{"t":584,"k":784,"r":511,"g":680,"b":1308},{"t":587,"k":765,"r":560,"g":713,"b":1230},{"t":590,"k":688,"r":487,"g":747,"b":1345},{"t":593,"k":772,"r":536,"g":673,"b":1267},{"t":596,"k":799,"r":588,"g":692,"b":1185},{"t":599,"k":727,"r":517,"g":769,"b":1295},
{"t":602,"k":724,"r":491,"g":700,"b":1314},{"t":605,"k":823,"r":566,"g":731,"b":1289},{"t":608,"k":712,"r":506,"g":632,"b":1244},{"t":611,"k":768,"r":521,"g":742,"b":1366},{"t":614,"k":746,"r":549,"g":686,"b":1251},{"t":617,"k":779,"r":471,"g":708,"b":1275},{"t":620,"k":677,"r":543,"g":673,"b":1320},{"t":623,"k":785,"r":527,"g":775,"b":1208},{"t":626,"k":760,"r":498,"g":667,"b":1299},{"t":629,"k":729,"r":568,"g":692,"b":1331},{"t":632,"k":804,"r":510,"g":723,"b":1257},{"t":635,"k":720,"r":489,"g":647,"b":1270},{"t":638,"k":748,"r":535,"g":731,"b":1314},{"t":641,"k":769,"r":527,"g":703,"b":1203},{"t":644,"k":691,"r":498,"g":681,"b":1269},{"t":647,"k":793,"r":567,"g":758,"b":1326},{"t":650,"k":756,"r":526,"g":656,"b":1255},{"t":653,"k":734,"r":488,"g":693,"b":1370},{"t":656,"k":812,"r":533,"g":715,"b":1242},{"t":659,"k":713,"r":459,"g":636,"b":1279},{"t":662,"k":775,"r":539,"g":735,"b":1304},{"t":665,"k":740,"r":516,"g":673,"b":1225},{"t":668,"k":706,"r":499,"g":707,"b":1340},{"t":671,"k":780,"r":549,"g":741,"b":1262},{"t":674,"k":761,"r":475,"g":666,"b":1180},{"t":677,"k":684,"r":524,"g":685,"b":1290},{"t":680,"k":768,"r":575,"g":762,"b":1318},{"t":683,"k":796,"r":505,"g":678,"b":1248},{"t":686,"k":724,"r":486,"g":650,"b":1351},{"t":689,"k":785,"r":530,"g":721,"b":1231},{"t":692,"k":736,"r":464,"g":659,"b":1284},{"t":695,"k":699,"r":540,"g":708,"b":1255},{"t":698,"k":770,"r":506,"g":745,"b":1329},{"t":701,"k":751,"r":523,"g":673,"b":1209},
{"t":704,"k":742,"r":536,"g":735,"b":1201},{"t":707,"k":776,"r":458,"g":679,"b":1291},{"t":710,"k":674,"r":530,"g":700,"b":1323},{"t":713,"k":781,"r":514,"g":666,"b":1249},{"t":716,"k":756,"r":485,"g":768,"b":1261},{"t":719,"k":725,"r":555,"g":659,"b":1306},{"t":722,"k":800,"r":497,"g":684,"b":1194},{"t":725,"k":716,"r":475,"g":715,"b":1260},{"t":728,"k":744,"r":522,"g":640,"b":1316},{"t":731,"k":765,"r":514,"g":723,"b":1246},{"t":734,"k":687,"r":484,"g":695,"b":1360},{"t":737,"k":789,"r":554,"g":673,"b":1233},{"t":740,"k":752,"r":513,"g":750,"b":1270},{"t":743,"k":730,"r":475,"g":647,"b":1294},{"t":746,"k":808,"r":520,"g":685,"b":1216},{"t":749,"k":708,"r":446,"g":706,"b":1330},{"t":752,"k":770,"r":526,"g":628,"b":1252},{"t":755,"k":736,"r":502,"g":727,"b":1169},{"t":758,"k":702,"r":486,"g":664,"b":1279},{"t":761,"k":776,"r":535,"g":698,"b":1308},{"t":764,"k":756,"r":462,"g":732,"b":1237},{"t":767,"k":679,"r":511,"g":658,"b":1339},{"t":770,"k":763,"r":562,"g":676,"b":1220},{"t":773,"k":791,"r":492,"g":753,"b":1273},{"t":776,"k":719,"r":473,"g":669,"b":1243},{"t":779,"k":781,"r":517,"g":641,"b":1317},{"t":782,"k":731,"r":451,"g":712,"b":1197},{"t":785,"k":693,"r":527,"g":650,"b":1292},{"t":788,"k":765,"r":493,"g":699,"b":1267},{"t":791,"k":746,"r":510,"g":736,"b":1221},{"t":794,"k":715,"r":463,"g":664,"b":1343},{"t":797,"k":814,"r":538,"g":689,"b":1228},{"t":800,"k":702,"r":478,"g":713,"b":1252}
]},
"vconcat": [
{
  "width": 603, "height": 111,
  "title": {"text": "black:TH0, red:TH1, green:TH2, blue:TH3 ,1bin = 1s", "anchor": "start", "frame": "group", "offset": 2},
  "layer": [
    {"mark": {"type": "line", "color": "black", "strokeWidth": 1.3, "clip": true},
     "encoding": {
       "x": {"field": "t", "type": "quantitative", "scale": {"domain": [-505, 805], "nice": false, "zero": false},
             "axis": {"orient": "bottom", "title": null, "labels": false, "zindex": 2, "values": [-400,-300,-200,-100,0,100,200,300,400,500,600,700,800], "tickSize": {"condition": {"test": "datum.value % 200 === 0", "value": -7}, "value": -4}, "tickWidth": {"condition": {"test": "datum.value % 200 === 0", "value": 2}, "value": 1.5}}},
       "y": {"field": "k", "type": "quantitative", "scale": {"domain": [509, 849], "nice": false, "zero": false},
             "axis": {"orient": "left", "title": null, "format": "d", "zindex": 2, "values": [520,540,560,580,600,620,640,660,680,700,720,740,760,780,800,820,840], "tickSize": {"condition": {"test": "datum.value % 100 === 0", "value": -7}, "value": -4}, "tickWidth": {"condition": {"test": "datum.value % 100 === 0", "value": 2}, "value": 1.5}, "labelExpr": "datum.value % 100 === 0 ? datum.label : ''", "labelPadding": 18.5}}
     }},
    {"mark": {"type": "line", "opacity": 0},
     "encoding": {
       "x": {"field": "t", "type": "quantitative", "axis": {"orient": "top", "title": null, "labels": false, "zindex": 2, "values": [-400,-300,-200,-100,0,100,200,300,400,500,600,700,800], "tickSize": {"condition": {"test": "datum.value % 200 === 0", "value": -7}, "value": -4}, "tickWidth": {"condition": {"test": "datum.value % 200 === 0", "value": 2}, "value": 1.5}}},
       "y": {"field": "k", "type": "quantitative", "axis": {"orient": "right", "title": null, "labels": false, "zindex": 2, "values": [520,540,560,580,600,620,640,660,680,700,720,740,760,780,800,820,840], "tickSize": {"condition": {"test": "datum.value % 100 === 0", "value": -7}, "value": -4}, "tickWidth": {"condition": {"test": "datum.value % 100 === 0", "value": 2}, "value": 1.5}}}
     }}
  ],
  "resolve": {"axis": {"x": "independent", "y": "independent"}}
},
{
  "width": 603, "height": 113,
  "layer": [
    {"mark": {"type": "line", "color": "#ff0000", "strokeWidth": 1.3, "clip": true},
     "encoding": {
       "x": {"field": "t", "type": "quantitative", "scale": {"domain": [-505, 805], "nice": false, "zero": false},
             "axis": {"orient": "bottom", "title": null, "labels": false, "zindex": 2, "values": [-400,-300,-200,-100,0,100,200,300,400,500,600,700,800], "tickSize": {"condition": {"test": "datum.value % 200 === 0", "value": -7}, "value": -4}, "tickWidth": {"condition": {"test": "datum.value % 200 === 0", "value": 2}, "value": 1.5}}},
       "y": {"field": "r", "type": "quantitative", "scale": {"domain": [369, 615], "nice": false, "zero": false},
             "axis": {"orient": "left", "title": null, "format": "d", "zindex": 2, "values": [370,380,390,400,410,420,430,440,450,460,470,480,490,500,510,520,530,540,550,560,570,580,590,600,610], "tickSize": {"condition": {"test": "datum.value % 50 === 0", "value": -7}, "value": -4}, "tickWidth": {"condition": {"test": "datum.value % 50 === 0", "value": 2}, "value": 1.5}, "labelExpr": "datum.value % 50 === 0 ? datum.label : ''", "labelPadding": 18.5}}
     }},
    {"mark": {"type": "line", "opacity": 0},
     "encoding": {
       "x": {"field": "t", "type": "quantitative", "axis": {"orient": "top", "title": null, "labels": false, "zindex": 2, "values": [-400,-300,-200,-100,0,100,200,300,400,500,600,700,800], "tickSize": {"condition": {"test": "datum.value % 200 === 0", "value": -7}, "value": -4}, "tickWidth": {"condition": {"test": "datum.value % 200 === 0", "value": 2}, "value": 1.5}}},
       "y": {"field": "r", "type": "quantitative", "axis": {"orient": "right", "title": null, "labels": false, "zindex": 2, "values": [370,380,390,400,410,420,430,440,450,460,470,480,490,500,510,520,530,540,550,560,570,580,590,600,610], "tickSize": {"condition": {"test": "datum.value % 50 === 0", "value": -7}, "value": -4}, "tickWidth": {"condition": {"test": "datum.value % 50 === 0", "value": 2}, "value": 1.5}}}
     }}
  ],
  "resolve": {"axis": {"x": "independent", "y": "independent"}}
},
{
  "width": 603, "height": 112,
  "layer": [
    {"mark": {"type": "line", "color": "#00ff00", "strokeWidth": 1.3, "clip": true},
     "encoding": {
       "x": {"field": "t", "type": "quantitative", "scale": {"domain": [-505, 805], "nice": false, "zero": false},
             "axis": {"orient": "bottom", "title": null, "labels": false, "zindex": 2, "values": [-400,-300,-200,-100,0,100,200,300,400,500,600,700,800], "tickSize": {"condition": {"test": "datum.value % 200 === 0", "value": -7}, "value": -4}, "tickWidth": {"condition": {"test": "datum.value % 200 === 0", "value": 2}, "value": 1.5}}},
       "y": {"field": "g", "type": "quantitative", "scale": {"domain": [509, 802], "nice": false, "zero": false},
             "axis": {"orient": "left", "title": null, "format": "d", "zindex": 2, "values": [520,540,560,580,600,620,640,660,680,700,720,740,760,780,800], "tickSize": {"condition": {"test": "datum.value % 100 === 0", "value": -7}, "value": -4}, "tickWidth": {"condition": {"test": "datum.value % 100 === 0", "value": 2}, "value": 1.5}, "labelExpr": "datum.value % 100 === 0 && datum.value < 800 ? datum.label : ''", "labelPadding": 18.5}}
     }},
    {"mark": {"type": "line", "opacity": 0},
     "encoding": {
       "x": {"field": "t", "type": "quantitative", "axis": {"orient": "top", "title": null, "labels": false, "zindex": 2, "values": [-400,-300,-200,-100,0,100,200,300,400,500,600,700,800], "tickSize": {"condition": {"test": "datum.value % 200 === 0", "value": -7}, "value": -4}, "tickWidth": {"condition": {"test": "datum.value % 200 === 0", "value": 2}, "value": 1.5}}},
       "y": {"field": "g", "type": "quantitative", "axis": {"orient": "right", "title": null, "labels": false, "zindex": 2, "values": [520,540,560,580,600,620,640,660,680,700,720,740,760,780,800], "tickSize": {"condition": {"test": "datum.value % 100 === 0", "value": -7}, "value": -4}, "tickWidth": {"condition": {"test": "datum.value % 100 === 0", "value": 2}, "value": 1.5}}}
     }}
  ],
  "resolve": {"axis": {"x": "independent", "y": "independent"}}
},
{
  "width": 603, "height": 112,
  "layer": [
    {"mark": {"type": "line", "color": "#0000ff", "strokeWidth": 1.3, "clip": true},
     "encoding": {
       "x": {"field": "t", "type": "quantitative", "scale": {"domain": [-505, 805], "nice": false, "zero": false},
             "axis": {"orient": "bottom", "title": null, "zindex": 2, "values": [-400,-300,-200,-100,0,100,200,300,400,500,600,700,800], "tickSize": {"condition": {"test": "datum.value % 200 === 0", "value": -7}, "value": -4}, "tickWidth": {"condition": {"test": "datum.value % 200 === 0", "value": 2}, "value": 1.5}, "labelExpr": "datum.value % 200 === 0 ? datum.label : ''", "labelPadding": 8}},
       "y": {"field": "b", "type": "quantitative", "scale": {"domain": [942, 1416], "nice": false, "zero": false},
             "axis": {"orient": "left", "title": null, "format": "d", "zindex": 2, "values": [960,980,1000,1020,1040,1060,1080,1100,1120,1140,1160,1180,1200,1220,1240,1260,1280,1300,1320,1340,1360,1380,1400], "tickSize": {"condition": {"test": "datum.value % 100 === 0", "value": -7}, "value": -4}, "tickWidth": {"condition": {"test": "datum.value % 100 === 0", "value": 2}, "value": 1.5}, "labelExpr": "datum.value % 100 === 0 ? datum.label : ''", "labelPadding": 18.5}}
     }},
    {"mark": {"type": "line", "opacity": 0},
     "encoding": {
       "x": {"field": "t", "type": "quantitative", "axis": {"orient": "top", "title": null, "labels": false, "zindex": 2, "values": [-400,-300,-200,-100,0,100,200,300,400,500,600,700,800], "tickSize": {"condition": {"test": "datum.value % 200 === 0", "value": -7}, "value": -4}, "tickWidth": {"condition": {"test": "datum.value % 200 === 0", "value": 2}, "value": 1.5}}},
       "y": {"field": "b", "type": "quantitative", "axis": {"orient": "right", "title": null, "labels": false, "zindex": 2, "values": [960,980,1000,1020,1040,1060,1080,1100,1120,1140,1160,1180,1200,1220,1240,1260,1280,1300,1320,1340,1360,1380,1400], "tickSize": {"condition": {"test": "datum.value % 100 === 0", "value": -7}, "value": -4}, "tickWidth": {"condition": {"test": "datum.value % 100 === 0", "value": 2}, "value": 1.5}}}
     }}
  ],
  "resolve": {"axis": {"x": "independent", "y": "independent"}}
}
]
}
